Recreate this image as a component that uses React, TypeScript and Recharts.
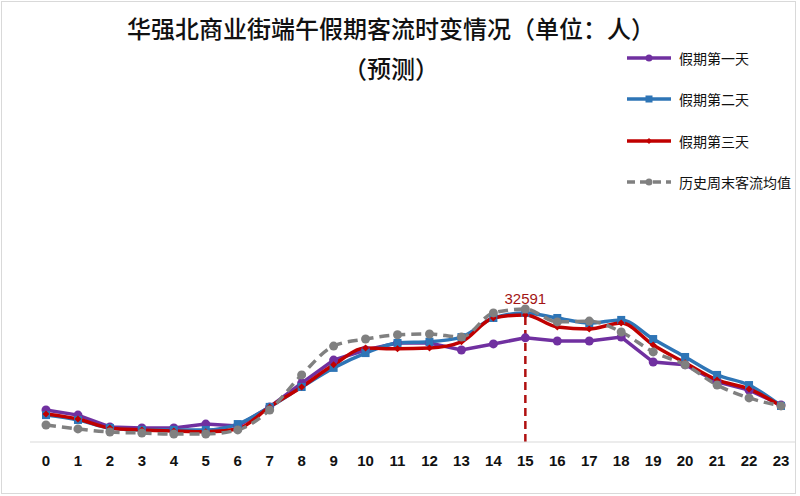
import React from 'react';
import { LineChart, Line, XAxis, YAxis, Legend, ReferenceLine, ReferenceDot } from 'recharts';

const hours = ['0', '1', '2', '3', '4', '5', '6', '7', '8', '9', '10', '11', '12', '13', '14', '15', '16', '17', '18', '19', '20', '21', '22', '23'];

const day1 = [8200, 6900, 3850, 3600, 3600, 4600, 4100, 9000, 15100, 21000, 23600, 25400, 25400, 23600, 25150, 26700, 25900, 25900, 26900, 20500, 19800, 15400, 13300, 9500];
const day2 = [6900, 5650, 3600, 3100, 3100, 3100, 4600, 9000, 14100, 19000, 22800, 25400, 25700, 26900, 31800, 33100, 31800, 30500, 31300, 26400, 21800, 17200, 14600, 9250];
const day3 = [7200, 5900, 3600, 3100, 2800, 2600, 3350, 9000, 14100, 19800, 24100, 23900, 24100, 25700, 31800, 32591, 29500, 29000, 30500, 24900, 20300, 15900, 13600, 9250];
const history = [4350, 3350, 2550, 2300, 2050, 2050, 3100, 8200, 17200, 24600, 26400, 27500, 27700, 26900, 33100, 34100, 30800, 31000, 28200, 23100, 19800, 14600, 11300, 9250];

const peakHour = '15';
const peakValue = 32591;

const data = hours.map((h, i) => ({
  hour: h,
  day1: day1[i],
  day2: day2[i],
  day3: day3[i],
  history: history[i],
}));

const series = [
  { key: 'day1', name: '假期第一天', color: '#7030a0', marker: 'circle', dash: undefined as string | undefined },
  { key: 'day2', name: '假期第二天', color: '#2e75b6', marker: 'square', dash: undefined },
  { key: 'day3', name: '假期第三天', color: '#c00000', marker: 'diamond', dash: undefined },
  { key: 'history', name: '历史周末客流均值', color: '#808080', marker: 'circle', dash: '10 6' },
];

const renderMarker = (kind: string, color: string, cx: number, cy: number, size: number) => {
  if (kind === 'square') {
    return <rect x={cx - size} y={cy - size} width={size * 2} height={size * 2} fill={color} />;
  }
  if (kind === 'diamond') {
    return (
      <path
        d={`M${cx},${cy - size} L${cx + size},${cy} L${cx},${cy + size} L${cx - size},${cy} Z`}
        fill={color}
      />
    );
  }
  return <circle cx={cx} cy={cy} r={size} fill={color} />;
};

const makeDot = (kind: string, color: string, size: number) => (props: any) => {
  const { cx, cy, index } = props;
  if (cx == null || cy == null) return <g key={index} />;
  return <g key={index}>{renderMarker(kind, color, cx, cy, size)}</g>;
};

const LegendContent = () => (
  <div style={{ fontFamily: '"Noto Sans CJK SC", sans-serif', fontSize: 14, color: '#111' }}>
    {series.map((s) => (
      <div key={s.key} style={{ display: 'flex', alignItems: 'center', height: 41.5 }}>
        <svg width={50} height={12} style={{ marginRight: 4 }}>
          <line
            x1={2}
            y1={6}
            x2={46}
            y2={6}
            stroke={s.color}
            strokeWidth={3.5}
            strokeDasharray={s.dash ? '8 5' : undefined}
          />
          {renderMarker(s.marker, s.color, 24, 6, s.marker === 'diamond' ? 3 : 3.5)}
        </svg>
        <span>{s.name}</span>
      </div>
    ))}
  </div>
);

export default function App() {
  return (
    <div
      style={{
        position: 'absolute',
        left: 0,
        top: 0,
        width: 800,
        height: 496,
        background: '#fff',
      }}
    >
      <div
        style={{
          position: 'absolute',
          left: 1,
          top: 1,
          width: 793,
          height: 491,
          border: '1px solid #d9d9d9',
        }}
      />
      <div
        style={{
          position: 'absolute',
          left: 0,
          top: 8,
          width: 782,
          textAlign: 'center',
          fontFamily: '"Noto Sans CJK SC", sans-serif',
          fontSize: 24,
          fontWeight: 500,
          lineHeight: '40px',
          color: '#111',
        }}
      >
        <div>华强北商业街端午假期客流时变情况（单位：人）</div>
        <div>（预测）</div>
      </div>
      <LineChart
        width={800}
        height={496}
        data={data}
        margin={{ top: 286, right: 5, bottom: 24, left: 30 }}
        style={{ position: 'absolute', left: 0, top: 0 }}
      >
        <XAxis
          dataKey="hour"
          height={30}
          padding={{ left: 16, right: 14 }}
          axisLine={{ stroke: '#d9d9d9', strokeWidth: 1 }}
          tickLine={false}
          tickSize={6}
          tickMargin={7}
          interval={0}
          tick={{ fontSize: 15, fontWeight: 'bold', fill: '#111', fontFamily: '"Liberation Sans", Arial, sans-serif' }}
        />
        <YAxis hide domain={[0, 40000]} />
        <Legend
          layout="vertical"
          align="center"
          verticalAlign="middle"
          content={LegendContent}
          wrapperStyle={{ top: 37, left: 625, width: 175 }}
        />
        <ReferenceLine
          segment={[
            { x: peakHour, y: 0 },
            { x: peakHour, y: peakValue },
          ]}
          stroke="#b01010"
          strokeWidth={2.5}
          strokeDasharray="8 5"
        />
        {series.map((s) => (
          <Line
            key={s.key}
            dataKey={s.key}
            name={s.name}
            type={s.key === 'day1' ? 'linear' : 'monotone'}
            stroke={s.color}
            strokeWidth={3.5}
            strokeDasharray={s.dash}
            dot={makeDot(s.marker, s.color, s.marker === 'square' ? 4 : s.marker === 'diamond' ? 3.5 : 4.5)}
            activeDot={false}
            isAnimationActive={false}
          />
        ))}
        <ReferenceDot
          x={peakHour}
          y={peakValue}
          r={0}
          label={{ value: String(peakValue), position: 'top', offset: 11, fill: '#a31515', fontSize: 15, fontFamily: '"Liberation Sans", Arial, sans-serif' }}
        />
      </LineChart>
    </div>
  );
}
